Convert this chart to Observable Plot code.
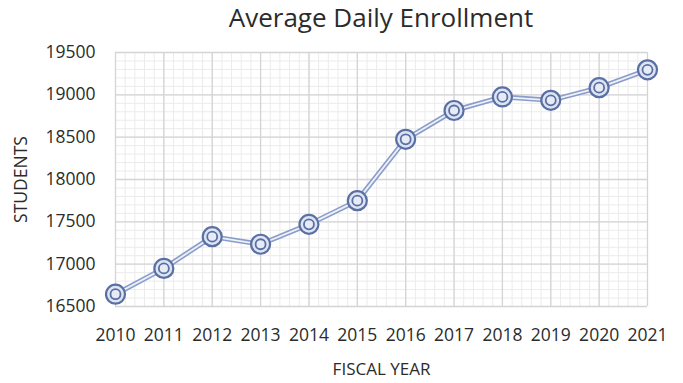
<!DOCTYPE html>
<html>
<head>
<meta charset="utf-8">
<script src="https://cdn.jsdelivr.net/npm/d3@7"></script>
<script src="https://cdn.jsdelivr.net/npm/@observablehq/plot@0.6"></script>
<style>
  html, body { margin: 0; padding: 0; background: #fff; }
  #wrap { width: 683px; height: 383px; position: relative; overflow: hidden; }
  #title {
    box-sizing: border-box; width: 683px; height: 40px;
    padding: 4px 36px 0 115px; text-align: center;
    font-family: "Open Sans", sans-serif; font-size: 26px; line-height: 26px; color: #2b2b2b;
  }
  svg { display: block; }
</style>
</head>
<body>
<div id="wrap">
  <div id="title">Average Daily Enrollment</div>
  <div id="chart"></div>
</div>
<script>
const years = [2010, 2011, 2012, 2013, 2014, 2015, 2016, 2017, 2018, 2019, 2020, 2021];
const students = [16645, 16950, 17325, 17235, 17470, 17750, 18475, 18815, 18975, 18935, 19085, 19295];
const yTicks = [16500, 17000, 17500, 18000, 18500, 19000, 19500];
const yLabel = "STUDENTS";
const xLabel = "FISCAL YEAR";

const data = years.map((y, i) => ({year: y, value: students[i]}));
const minorX = d3.range(0, 55).map(i => 2010 + i / 5);
const minorY = d3.range(0, 31).map(i => 16500 + i * 100);

const font = "Open Sans, sans-serif";
const ringColor = "#5a6fa3";

const chart = Plot.plot({
  width: 683,
  height: 343,
  marginLeft: 115,
  marginRight: 36,
  marginTop: 12,
  marginBottom: 77,
  style: {fontFamily: font, color: "#2b2b2b", background: "#fff"},
  x: {domain: [2010, 2021], ticks: years, tickFormat: "d", label: null, tickSize: 0, tickPadding: 22},
  y: {domain: [16500, 19500], ticks: yTicks, tickFormat: "d", label: null, tickSize: 0, tickPadding: 20},
  marks: [
    Plot.ruleX(minorX, {stroke: "#ebebeb", strokeWidth: 1}),
    Plot.ruleY(minorY, {stroke: "#ebebeb", strokeWidth: 1}),
    Plot.ruleX(years, {stroke: "#d4d4d4", strokeWidth: 1.3}),
    Plot.ruleY(yTicks, {stroke: "#d4d4d4", strokeWidth: 1.3}),
    Plot.axisX({ticks: years, tickFormat: "d", tickSize: 0, tickPadding: 22, fontSize: 17.5, fill: "#2b2b2b", label: null}),
    Plot.axisY({ticks: yTicks, tickFormat: "d", tickSize: 0, tickPadding: 20, fontSize: 17.5, fill: "#2b2b2b", label: null}),
    Plot.line(data, {x: "year", y: "value", stroke: "#8a9cc9", strokeWidth: 5}),
    Plot.line(data, {x: "year", y: "value", stroke: "#edf1f9", strokeWidth: 1.8}),
    Plot.dot(data, {x: "year", y: "value", r: 9.5, stroke: ringColor, strokeWidth: 2.2, fill: "#dde4f3"}),
    Plot.dot(data, {x: "year", y: "value", r: 5, stroke: ringColor, strokeWidth: 1.8, fill: "#e6ebf6"}),
    Plot.text([yLabel], {frameAnchor: "left", dx: -94, rotate: -90, textAnchor: "middle", lineAnchor: "middle", fontSize: 17.5, fill: "#2b2b2b"}),
    Plot.text([xLabel], {frameAnchor: "bottom", dy: 63, textAnchor: "middle", lineAnchor: "middle", fontSize: 17, fill: "#2b2b2b"})
  ]
});
document.getElementById("chart").appendChild(chart);
</script>
</body>
</html>
